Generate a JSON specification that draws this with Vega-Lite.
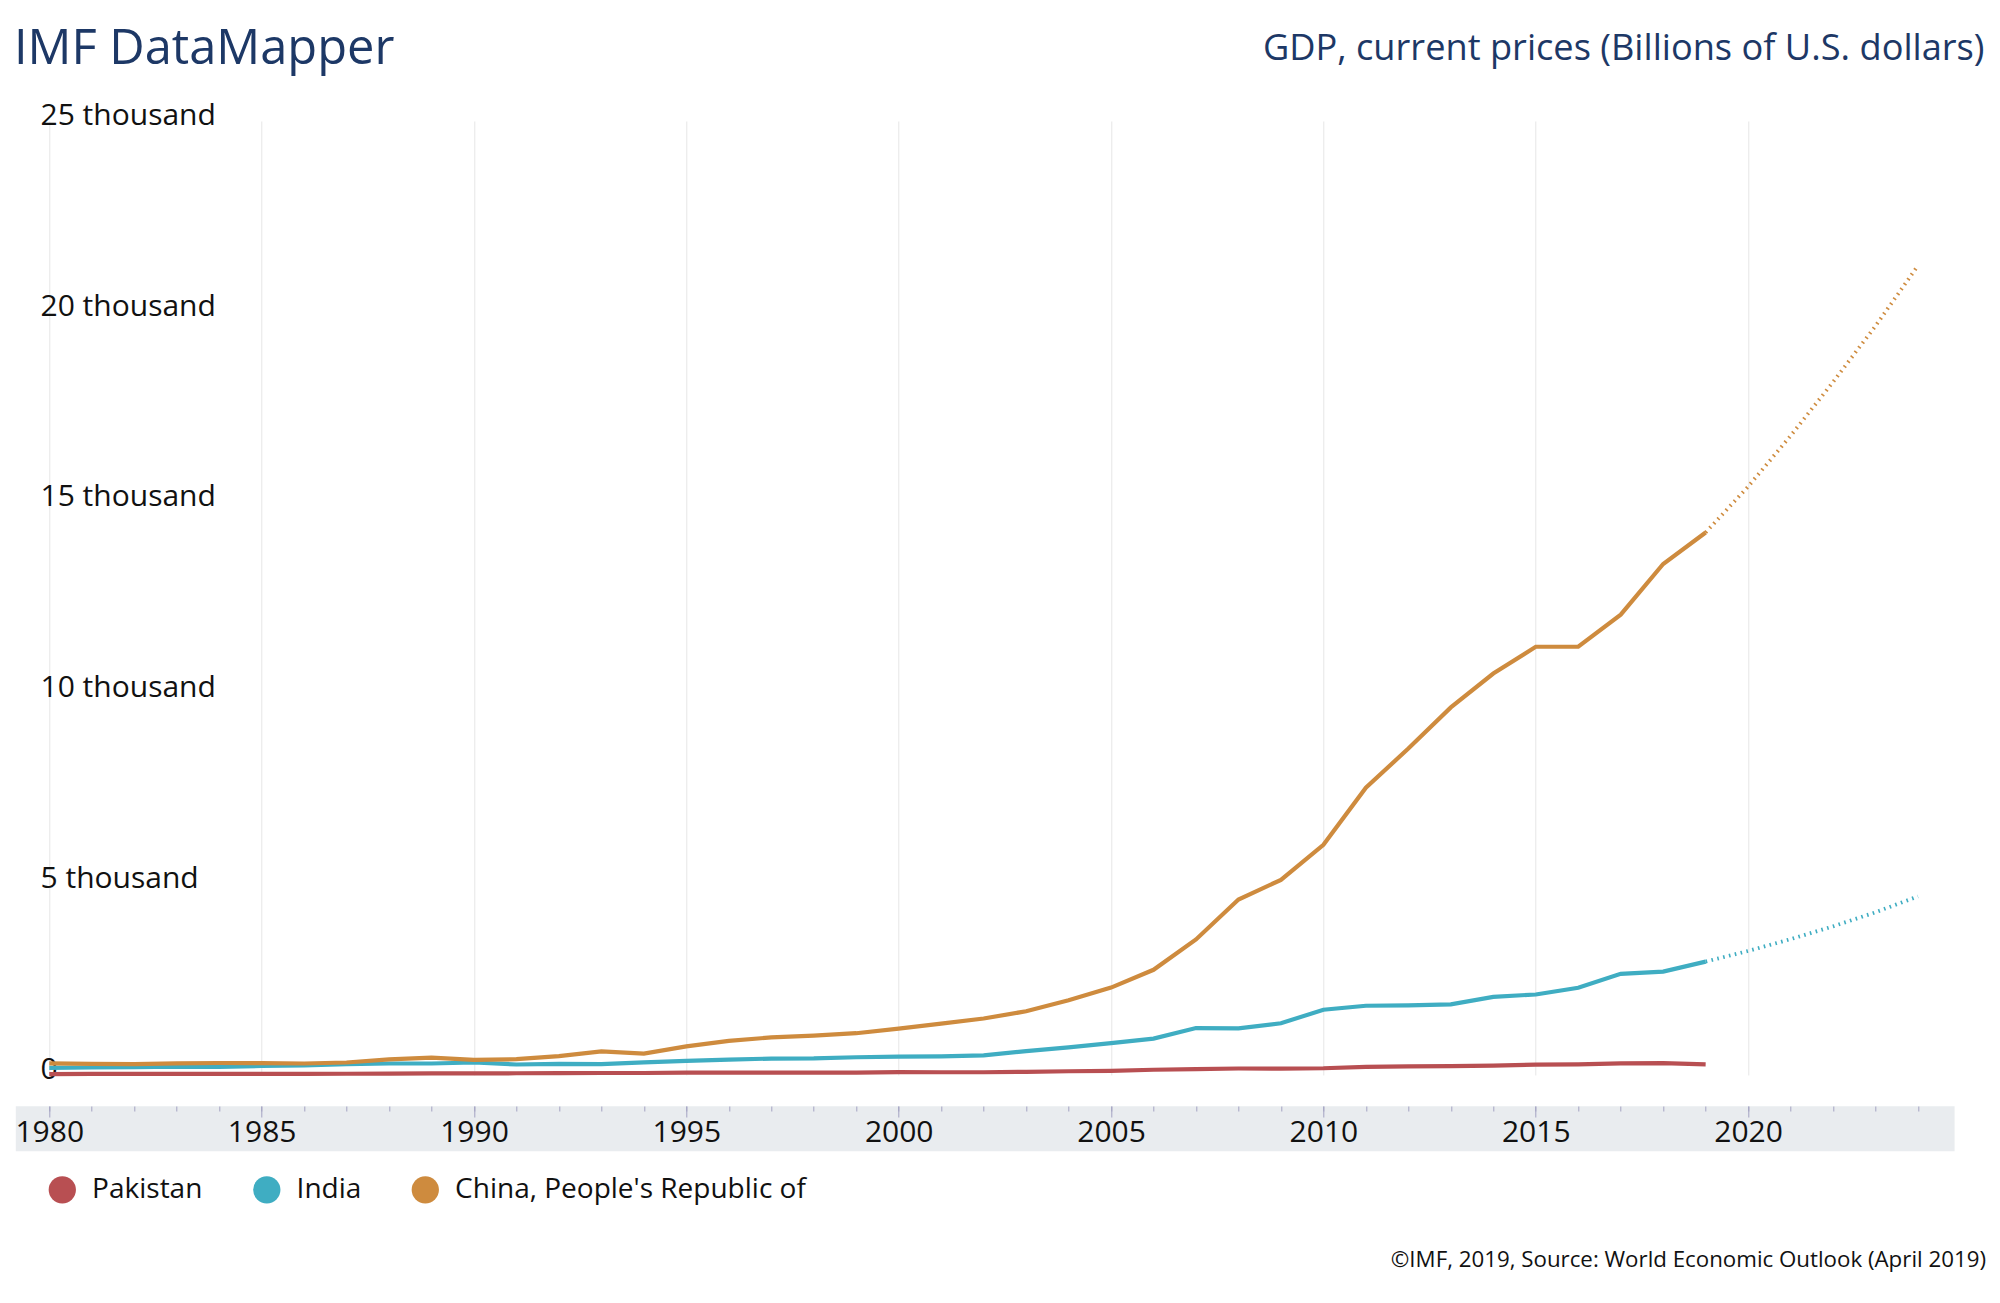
{
  "$schema": "https://vega.github.io/schema/vega-lite/v6.json",
  "autosize": {"type": "none"},
  "padding": {"left": 15.3, "top": 121, "right": 45.9, "bottom": 228},
  "width": 1938.8,
  "height": 954,
  "background": "#ffffff",
  "config": {
    "font": "Open Sans",
    "view": {"stroke": null},
    "axis": {"labelFont": "Open Sans", "titleFont": "Open Sans", "titleFontWeight": "normal"},
    "legend": {"labelFont": "Open Sans"}
  },
  "data": {
    "values": [
      {"country": "Pakistan", "year": 1980, "gdp": 24},
      {"country": "Pakistan", "year": 1981, "gdp": 28},
      {"country": "Pakistan", "year": 1982, "gdp": 31},
      {"country": "Pakistan", "year": 1983, "gdp": 29},
      {"country": "Pakistan", "year": 1984, "gdp": 31},
      {"country": "Pakistan", "year": 1985, "gdp": 31},
      {"country": "Pakistan", "year": 1986, "gdp": 31},
      {"country": "Pakistan", "year": 1987, "gdp": 33},
      {"country": "Pakistan", "year": 1988, "gdp": 38},
      {"country": "Pakistan", "year": 1989, "gdp": 40},
      {"country": "Pakistan", "year": 1990, "gdp": 40},
      {"country": "Pakistan", "year": 1991, "gdp": 46},
      {"country": "Pakistan", "year": 1992, "gdp": 49},
      {"country": "Pakistan", "year": 1993, "gdp": 52},
      {"country": "Pakistan", "year": 1994, "gdp": 52},
      {"country": "Pakistan", "year": 1995, "gdp": 61},
      {"country": "Pakistan", "year": 1996, "gdp": 63},
      {"country": "Pakistan", "year": 1997, "gdp": 62},
      {"country": "Pakistan", "year": 1998, "gdp": 62},
      {"country": "Pakistan", "year": 1999, "gdp": 63},
      {"country": "Pakistan", "year": 2000, "gdp": 74},
      {"country": "Pakistan", "year": 2001, "gdp": 72},
      {"country": "Pakistan", "year": 2002, "gdp": 72},
      {"country": "Pakistan", "year": 2003, "gdp": 83},
      {"country": "Pakistan", "year": 2004, "gdp": 98},
      {"country": "Pakistan", "year": 2005, "gdp": 110},
      {"country": "Pakistan", "year": 2006, "gdp": 137},
      {"country": "Pakistan", "year": 2007, "gdp": 152},
      {"country": "Pakistan", "year": 2008, "gdp": 170},
      {"country": "Pakistan", "year": 2009, "gdp": 168},
      {"country": "Pakistan", "year": 2010, "gdp": 177},
      {"country": "Pakistan", "year": 2011, "gdp": 214},
      {"country": "Pakistan", "year": 2012, "gdp": 224},
      {"country": "Pakistan", "year": 2013, "gdp": 231},
      {"country": "Pakistan", "year": 2014, "gdp": 244},
      {"country": "Pakistan", "year": 2015, "gdp": 271},
      {"country": "Pakistan", "year": 2016, "gdp": 279},
      {"country": "Pakistan", "year": 2017, "gdp": 305},
      {"country": "Pakistan", "year": 2018, "gdp": 313},
      {"country": "Pakistan", "year": 2019, "gdp": 280},
      {"country": "India", "year": 1980, "gdp": 189},
      {"country": "India", "year": 1981, "gdp": 197},
      {"country": "India", "year": 1982, "gdp": 204},
      {"country": "India", "year": 1983, "gdp": 222},
      {"country": "India", "year": 1984, "gdp": 215},
      {"country": "India", "year": 1985, "gdp": 237},
      {"country": "India", "year": 1986, "gdp": 253},
      {"country": "India", "year": 1987, "gdp": 284},
      {"country": "India", "year": 1988, "gdp": 302},
      {"country": "India", "year": 1989, "gdp": 301},
      {"country": "India", "year": 1990, "gdp": 327},
      {"country": "India", "year": 1991, "gdp": 275},
      {"country": "India", "year": 1992, "gdp": 293},
      {"country": "India", "year": 1993, "gdp": 284},
      {"country": "India", "year": 1994, "gdp": 333},
      {"country": "India", "year": 1995, "gdp": 370},
      {"country": "India", "year": 1996, "gdp": 405},
      {"country": "India", "year": 1997, "gdp": 430},
      {"country": "India", "year": 1998, "gdp": 435},
      {"country": "India", "year": 1999, "gdp": 465},
      {"country": "India", "year": 2000, "gdp": 480},
      {"country": "India", "year": 2001, "gdp": 490},
      {"country": "India", "year": 2002, "gdp": 515},
      {"country": "India", "year": 2003, "gdp": 625},
      {"country": "India", "year": 2004, "gdp": 725},
      {"country": "India", "year": 2005, "gdp": 835},
      {"country": "India", "year": 2006, "gdp": 955},
      {"country": "India", "year": 2007, "gdp": 1230},
      {"country": "India", "year": 2008, "gdp": 1220},
      {"country": "India", "year": 2009, "gdp": 1355},
      {"country": "India", "year": 2010, "gdp": 1711},
      {"country": "India", "year": 2011, "gdp": 1815},
      {"country": "India", "year": 2012, "gdp": 1823},
      {"country": "India", "year": 2013, "gdp": 1852},
      {"country": "India", "year": 2014, "gdp": 2049},
      {"country": "India", "year": 2015, "gdp": 2110},
      {"country": "India", "year": 2016, "gdp": 2285},
      {"country": "India", "year": 2017, "gdp": 2650},
      {"country": "India", "year": 2018, "gdp": 2710},
      {"country": "India", "year": 2019, "gdp": 2972},
      {"country": "India", "year": 2020, "gdp": 3250},
      {"country": "India", "year": 2021, "gdp": 3560},
      {"country": "India", "year": 2022, "gdp": 3895},
      {"country": "India", "year": 2023, "gdp": 4265},
      {"country": "India", "year": 2024, "gdp": 4680},
      {"country": "China, People's Republic of", "year": 1980, "gdp": 305},
      {"country": "China, People's Republic of", "year": 1981, "gdp": 289},
      {"country": "China, People's Republic of", "year": 1982, "gdp": 285},
      {"country": "China, People's Republic of", "year": 1983, "gdp": 306},
      {"country": "China, People's Republic of", "year": 1984, "gdp": 315},
      {"country": "China, People's Republic of", "year": 1985, "gdp": 311},
      {"country": "China, People's Republic of", "year": 1986, "gdp": 301},
      {"country": "China, People's Republic of", "year": 1987, "gdp": 327},
      {"country": "China, People's Republic of", "year": 1988, "gdp": 410},
      {"country": "China, People's Republic of", "year": 1989, "gdp": 456},
      {"country": "China, People's Republic of", "year": 1990, "gdp": 395},
      {"country": "China, People's Republic of", "year": 1991, "gdp": 414},
      {"country": "China, People's Republic of", "year": 1992, "gdp": 494},
      {"country": "China, People's Republic of", "year": 1993, "gdp": 617},
      {"country": "China, People's Republic of", "year": 1994, "gdp": 560},
      {"country": "China, People's Republic of", "year": 1995, "gdp": 750},
      {"country": "China, People's Republic of", "year": 1996, "gdp": 895},
      {"country": "China, People's Republic of", "year": 1997, "gdp": 985},
      {"country": "China, People's Republic of", "year": 1998, "gdp": 1030},
      {"country": "China, People's Republic of", "year": 1999, "gdp": 1095},
      {"country": "China, People's Republic of", "year": 2000, "gdp": 1215},
      {"country": "China, People's Republic of", "year": 2001, "gdp": 1345},
      {"country": "China, People's Republic of", "year": 2002, "gdp": 1480},
      {"country": "China, People's Republic of", "year": 2003, "gdp": 1670},
      {"country": "China, People's Republic of", "year": 2004, "gdp": 1960},
      {"country": "China, People's Republic of", "year": 2005, "gdp": 2290},
      {"country": "China, People's Republic of", "year": 2006, "gdp": 2757},
      {"country": "China, People's Republic of", "year": 2007, "gdp": 3551},
      {"country": "China, People's Republic of", "year": 2008, "gdp": 4599},
      {"country": "China, People's Republic of", "year": 2009, "gdp": 5114},
      {"country": "China, People's Republic of", "year": 2010, "gdp": 6031},
      {"country": "China, People's Republic of", "year": 2011, "gdp": 7527},
      {"country": "China, People's Republic of", "year": 2012, "gdp": 8556},
      {"country": "China, People's Republic of", "year": 2013, "gdp": 9633},
      {"country": "China, People's Republic of", "year": 2014, "gdp": 10521},
      {"country": "China, People's Republic of", "year": 2015, "gdp": 11222},
      {"country": "China, People's Republic of", "year": 2016, "gdp": 11222},
      {"country": "China, People's Republic of", "year": 2017, "gdp": 12063},
      {"country": "China, People's Republic of", "year": 2018, "gdp": 13391},
      {"country": "China, People's Republic of", "year": 2019, "gdp": 14217},
      {"country": "China, People's Republic of", "year": 2020, "gdp": 15420},
      {"country": "China, People's Republic of", "year": 2021, "gdp": 16750},
      {"country": "China, People's Republic of", "year": 2022, "gdp": 18160},
      {"country": "China, People's Republic of", "year": 2023, "gdp": 19630},
      {"country": "China, People's Republic of", "year": 2024, "gdp": 21210}
    ]
  },
  "encoding": {
    "y": {
      "field": "gdp",
      "type": "quantitative",
      "scale": {"domain": [0, 25000], "nice": false, "zero": true},
      "axis": {
        "orient": "left",
        "values": [0, 5000, 10000, 15000, 20000, 25000],
        "labelExpr": "datum.value == 0 ? '0' : format(datum.value / 1000, 'd') + ' thousand'",
        "domain": false,
        "ticks": false,
        "tickSize": 0,
        "grid": false,
        "labelAlign": "left",
        "labelPadding": -24.7,
        "labelBaseline": "alphabetic",
        "labelOffset": 3.2,
        "labelFontSize": 30,
        "labelColor": "#111111",
        "labelFlush": false,
        "labelOverlap": false,
        "title": "GDP, current prices (Billions of U.S. dollars)",
        "titleAngle": 0,
        "titleAlign": "right",
        "titleBaseline": "alphabetic",
        "titleX": 1968.7,
        "titleY": -62,
        "titleFontSize": 36.2,
        "titleColor": "#1d3866",
        "titleFontWeight": "normal"
      }
    },
    "color": {
      "field": "country",
      "type": "nominal",
      "scale": {
        "domain": ["Pakistan", "India", "China, People's Republic of"],
        "range": ["#b84f52", "#3fadc2", "#ce8b3e"]
      },
      "legend": {
        "orient": "none",
        "legendX": 33,
        "legendY": 1054.8,
        "direction": "horizontal",
        "title": null,
        "symbolType": "circle",
        "symbolSize": 745,
        "symbolStrokeWidth": 0,
        "labelFontSize": 28,
        "labelColor": "#111111",
        "labelOffset": 15.8,
        "labelLimit": 800,
        "columnPadding": 49.5,
        "padding": 0,
        "encode": {
          "symbols": {
            "update": {
              "fill": {"scale": "color", "field": "value"},
              "opacity": {"value": 1}
            }
          }
        }
      }
    }
  },
  "layer": [
    {
      "transform": [{"filter": "datum.year < 1900"}],
      "mark": {"type": "line"},
      "encoding": {
        "x": {
          "field": "year",
          "type": "quantitative",
          "scale": {"domain": [1979.2, 2024.85], "nice": false, "zero": false},
          "axis": {
            "orient": "bottom",
            "offset": 53.2,
            "values": [1980, 1985, 1990, 1995, 2000, 2005, 2010, 2015, 2020],
            "domain": true,
            "domainWidth": 45,
            "domainColor": "#e9ecef",
            "ticks": false,
            "labels": false,
            "grid": true,
            "gridColor": "#e6e6e6",
            "gridWidth": 1,
            "title": null,
            "zindex": 0
          }
        }
      }
    },
    {
      "transform": [{"filter": "datum.year <= 2019"}],
      "mark": {"type": "line", "strokeWidth": 4.2},
      "encoding": {
        "x": {
          "field": "year",
          "type": "quantitative",
          "scale": {"domain": [1979.2, 2024.85], "nice": false, "zero": false},
          "axis": {
            "orient": "bottom",
            "offset": 31,
            "values": [1980, 1985, 1990, 1995, 2000, 2005, 2010, 2015, 2020],
            "format": "d",
            "domain": false,
            "grid": false,
            "ticks": true,
            "tickSize": 11,
            "tickColor": "#a3a3c2",
            "tickWidth": 1,
            "labelFontSize": 30,
            "labelColor": "#111111",
            "labelBaseline": "alphabetic",
            "labelPadding": 24.7,
            "labelFlush": false,
            "labelOverlap": false,
            "title": "©IMF, 2019, Source: World Economic Outlook (April 2019)",
            "titleFontSize": 22.3,
            "titleColor": "#111111",
            "titleFontWeight": "normal",
            "titleAlign": "right",
            "titleBaseline": "alphabetic",
            "titleX": 1970.2,
            "titleY": 160,
            "zindex": 1
          }
        }
      }
    },
    {
      "transform": [{"filter": "datum.year >= 2019 && datum.country != 'Pakistan'"}],
      "mark": {"type": "line", "strokeWidth": 3.8, "strokeDash": [1.6, 4.4]},
      "encoding": {
        "x": {
          "field": "year",
          "type": "quantitative",
          "scale": {"domain": [1979.2, 2024.85], "nice": false, "zero": false},
          "axis": {
            "orient": "bottom",
            "offset": 31,
            "values": [1980, 1981, 1982, 1983, 1984, 1985, 1986, 1987, 1988, 1989, 1990, 1991, 1992, 1993, 1994, 1995, 1996, 1997, 1998, 1999, 2000, 2001, 2002, 2003, 2004, 2005, 2006, 2007, 2008, 2009, 2010, 2011, 2012, 2013, 2014, 2015, 2016, 2017, 2018, 2019, 2020, 2021, 2022, 2023, 2024],
            "domain": false,
            "grid": false,
            "ticks": true,
            "tickSize": 5,
            "tickColor": "#a3a3c2",
            "tickWidth": 1,
            "labels": false,
            "title": "IMF DataMapper",
            "titleFontSize": 48.8,
            "titleColor": "#1d3866",
            "titleFontWeight": "normal",
            "titleAlign": "left",
            "titleBaseline": "alphabetic",
            "titleX": -1.9,
            "titleY": -1042.7,
            "zindex": 1
          }
        }
      }
    }
  ],
  "resolve": {"axis": {"x": "independent"}}
}
